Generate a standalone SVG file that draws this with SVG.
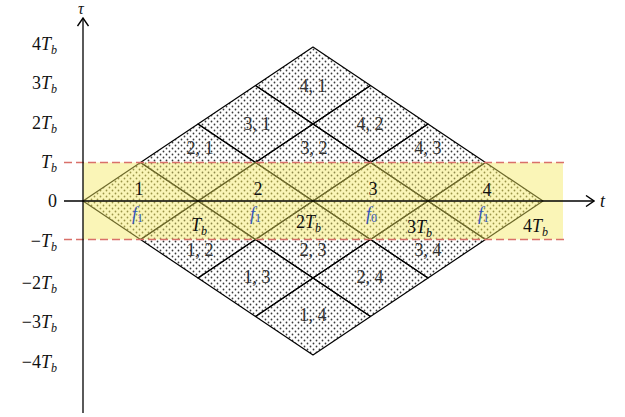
<svg xmlns="http://www.w3.org/2000/svg" width="625" height="417" viewBox="0 0 625 417">
<defs>
<pattern id="dots" width="6" height="6" patternUnits="userSpaceOnUse">
<circle cx="1.5" cy="1.5" r="0.9" fill="#3a3a3a"/>
<circle cx="4.5" cy="4.5" r="0.9" fill="#3a3a3a"/>
</pattern>
<pattern id="dotsY" width="6" height="6" patternUnits="userSpaceOnUse">
<circle cx="1.5" cy="1.5" r="0.9" fill="#9a9448"/>
<circle cx="4.5" cy="4.5" r="0.9" fill="#9a9448"/>
</pattern>
<marker id="arr" viewBox="0 0 10 12" refX="9" refY="6" markerWidth="10" markerHeight="12" markerUnits="userSpaceOnUse" orient="auto">
<path d="M1,0.5 L9,6 L1,11.5" fill="none" stroke="#000" stroke-width="1.4"/>
</marker>
</defs>
<style>
.rh{fill:url(#dots);stroke:#000;stroke-width:1.2;stroke-linejoin:round}
.rhy{fill:url(#dotsY);stroke:#6e6a2c;stroke-width:1.2;stroke-linejoin:round}
text{font-family:"Liberation Serif","DejaVu Serif",serif;font-size:18px}
.pl{fill:#333;text-anchor:middle}
.num{fill:#111;text-anchor:middle}
.f{fill:#3355bb}
.it{font-style:italic}
.sub{font-size:12px}
.ax{fill:#111;text-anchor:end}
.tl{fill:#111}
.dash{stroke:#d9706a;stroke-width:1.3;stroke-dasharray:8,4;fill:none}
.axis{stroke:#000;stroke-width:1.3;fill:none}
</style>

<g id="r4_1"><polygon class="rh" points="255.5,85.5 313,47 370.5,85.5 313,124"/><text class="pl" x="313" y="92">4, 1</text></g>
<g id="r3_1"><polygon class="rh" points="198,124 255.5,85.5 313,124 255.5,162.5"/><text class="pl" x="257" y="130">3, 1</text></g>
<g id="r4_2"><polygon class="rh" points="313,124 370.5,85.5 428,124 370.5,162.5"/><text class="pl" x="370" y="130">4, 2</text></g>
<g id="r2_1"><polygon class="rh" points="140.5,162.5 198,124 255.5,162.5 198,201"/><text class="pl" x="200" y="154">2, 1</text></g>
<g id="r3_2"><polygon class="rh" points="255.5,162.5 313,124 370.5,162.5 313,201"/><text class="pl" x="314" y="154">3, 2</text></g>
<g id="r4_3"><polygon class="rh" points="370.5,162.5 428,124 485.5,162.5 428,201"/><text class="pl" x="428" y="154">4, 3</text></g>
<g id="r1_2"><polygon class="rh" points="140.5,239.5 198,201 255.5,239.5 198,278"/><text class="pl" x="200" y="256">1, 2</text></g>
<g id="r2_3"><polygon class="rh" points="255.5,239.5 313,201 370.5,239.5 313,278"/><text class="pl" x="313" y="256">2, 3</text></g>
<g id="r3_4"><polygon class="rh" points="370.5,239.5 428,201 485.5,239.5 428,278"/><text class="pl" x="428" y="256">3, 4</text></g>
<g id="r1_3"><polygon class="rh" points="198,278 255.5,239.5 313,278 255.5,316.5"/><text class="pl" x="257" y="283">1, 3</text></g>
<g id="r2_4"><polygon class="rh" points="313,278 370.5,239.5 428,278 370.5,316.5"/><text class="pl" x="370" y="283">2, 4</text></g>
<g id="r1_4"><polygon class="rh" points="255.5,316.5 313,278 370.5,316.5 313,355"/><text class="pl" x="313" y="321">1, 4</text></g>

<g id="band">
<rect x="83" y="162.5" width="480" height="77" fill="#f5e860" opacity="0.45"/>
</g>

<g id="r1"><polygon class="rhy" points="83,201 140.5,162.5 198,201 140.5,239.5"/><text class="num" x="139" y="195">1</text><text class="f" x="132" y="220"><tspan class="it">f</tspan><tspan class="sub" dy="2">1</tspan></text></g>
<g id="r2"><polygon class="rhy" points="198,201 255.5,162.5 313,201 255.5,239.5"/><text class="num" x="258" y="195">2</text><text class="f" x="250" y="220"><tspan class="it">f</tspan><tspan class="sub" dy="2">1</tspan></text></g>
<g id="r3"><polygon class="rhy" points="313,201 370.5,162.5 428,201 370.5,239.5"/><text class="num" x="373" y="195">3</text><text class="f" x="366" y="220"><tspan class="it">f</tspan><tspan class="sub" dy="2">0</tspan></text></g>
<g id="r4"><polygon class="rhy" points="428,201 485.5,162.5 543,201 485.5,239.5"/><text class="num" x="487" y="196">4</text><text class="f" x="478" y="220"><tspan class="it">f</tspan><tspan class="sub" dy="2">1</tspan></text></g>

<g id="connectors">
<line class="dash" x1="64" y1="162.5" x2="568" y2="162.5"/>
<line class="dash" x1="64" y1="239.5" x2="568" y2="239.5"/>
<line class="axis" x1="64" y1="201" x2="594" y2="201" marker-end="url(#arr)"/>
<line class="axis" x1="83" y1="413" x2="83" y2="18" marker-end="url(#arr)"/>
</g>

<g id="tlabels">
<text class="tl" x="191" y="231"><tspan class="it">T</tspan><tspan class="it sub" dy="4">b</tspan></text>
<text class="tl" x="296" y="228"><tspan>2</tspan><tspan class="it">T</tspan><tspan class="it sub" dy="4">b</tspan></text>
<text class="tl" x="407" y="233"><tspan>3</tspan><tspan class="it">T</tspan><tspan class="it sub" dy="4">b</tspan></text>
<text class="tl" x="523" y="232"><tspan>4</tspan><tspan class="it">T</tspan><tspan class="it sub" dy="4">b</tspan></text>
<text class="tl it" x="600" y="207">t</text>
<text class="tl it" x="78" y="14" style="font-size:16px">τ</text>
</g>

<g id="ylabels">
<text class="ax" x="57" y="50">4<tspan class="it">T</tspan><tspan class="it sub" dy="4">b</tspan></text>
<text class="ax" x="57" y="89">3<tspan class="it">T</tspan><tspan class="it sub" dy="4">b</tspan></text>
<text class="ax" x="57" y="129">2<tspan class="it">T</tspan><tspan class="it sub" dy="4">b</tspan></text>
<text class="ax" x="57" y="168"><tspan class="it">T</tspan><tspan class="it sub" dy="4">b</tspan></text>
<text class="ax" x="57" y="207">0</text>
<text class="ax" x="57" y="247">−<tspan class="it">T</tspan><tspan class="it sub" dy="4">b</tspan></text>
<text class="ax" x="57" y="289">−2<tspan class="it">T</tspan><tspan class="it sub" dy="4">b</tspan></text>
<text class="ax" x="57" y="328">−3<tspan class="it">T</tspan><tspan class="it sub" dy="4">b</tspan></text>
<text class="ax" x="57" y="368">−4<tspan class="it">T</tspan><tspan class="it sub" dy="4">b</tspan></text>
</g>
</svg>
